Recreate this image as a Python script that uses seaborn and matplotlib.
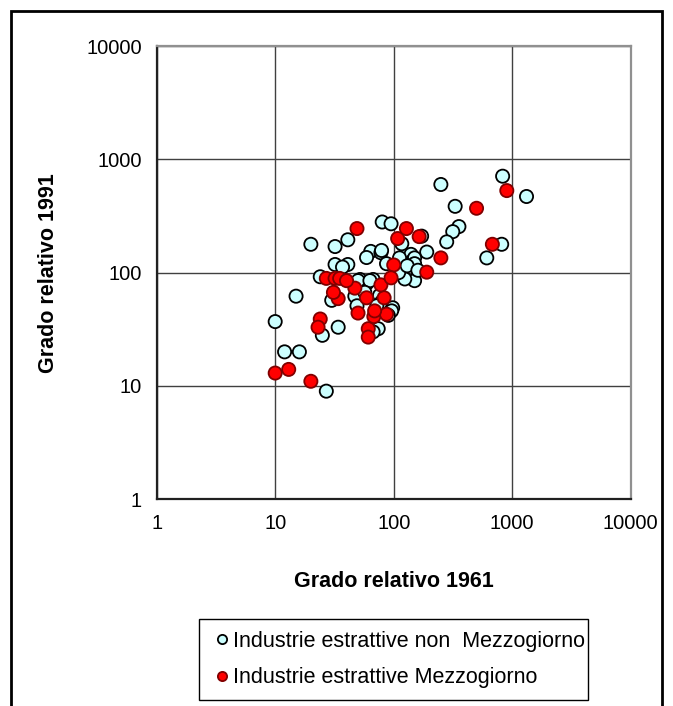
import pandas as pd
import numpy as np
import seaborn as sns
import matplotlib.pyplot as plt
from matplotlib.patches import Rectangle

# grado relativo 1961 / 1991 - industrie estrattive
nonmez_1961 = [10, 12, 16, 15, 20, 24, 25, 27, 34, 32, 41, 80, 95, 64, 78, 59, 32, 41, 37, 87,
               52, 67, 59, 250, 830, 1320, 330, 355, 315, 280, 815, 610, 172, 190, 150, 124,
               125, 140, 145, 150, 117, 79, 112, 150, 50, 63, 30, 47, 57, 76, 79, 98, 96, 49,
               72, 74, 67, 90, 110, 130, 160]
nonmez_1991 = [37, 20, 20, 62, 178, 92, 28, 9, 33, 170, 195, 280, 270, 154, 150, 136, 118, 118, 112, 120,
               87, 87, 80, 600, 710, 470, 385, 255, 230, 187, 178, 135, 210, 152, 85, 88,
               145, 145, 128, 135, 180, 157, 135, 120, 85, 85, 57, 62, 67, 63, 55, 49, 46, 51,
               51, 32, 30, 42, 100, 115, 105]

mez_1961 = [10, 13, 20, 24, 23, 61, 61, 68, 50, 87, 69, 83, 59, 47, 34, 31, 78, 27, 32, 35,
            40, 49, 108, 100, 95, 900, 500, 680, 250, 190, 128, 164]
mez_1991 = [13, 14, 11, 39, 33, 32, 27, 41, 44, 43, 46, 60, 60, 73, 59, 67, 78, 89, 89, 89,
            85, 245, 200, 117, 90, 530, 370, 178, 135, 101, 245, 208]

lab_non = "Industrie estrattive non  Mezzogiorno"
lab_mez = "Industrie estrattive Mezzogiorno"

df = pd.DataFrame({
    "x": nonmez_1961 + mez_1961,
    "y": nonmez_1991 + mez_1991,
    "gruppo": [lab_non] * len(nonmez_1961) + [lab_mez] * len(mez_1961),
})

sns.set_style("white")
plt.rcParams['font.family'] = ['Liberation Sans', 'DejaVu Sans']
plt.rcParams['text.color'] = 'black'
plt.rcParams['axes.labelcolor'] = 'black'
plt.rcParams['xtick.color'] = 'black'
plt.rcParams['ytick.color'] = 'black'

fig = plt.figure(figsize=(6.73, 7.06), dpi=100)
ax = fig.add_axes([0.2328, 0.2928, 0.7044, 0.642])

sns.scatterplot(data=df, x="x", y="y", hue="gruppo", hue_order=[lab_non, lab_mez],
                palette={lab_non: "#CCFFFF", lab_mez: "#FF0000"},
                s=90, linewidth=1.3, ax=ax, zorder=3)
# bordo nero per i ciano, rosso scuro per i rossi
coll = ax.collections[0]
ec = ["black"] * len(nonmez_1961) + ["#800000"] * len(mez_1961)
coll.set_edgecolors(ec)

ax.set_xscale("log")
ax.set_yscale("log")
ax.set_xlim(1, 10000)
ax.set_ylim(1, 10000)
ticks = [1, 10, 100, 1000, 10000]
ax.set_xticks(ticks)
ax.set_yticks(ticks)
ax.set_xticklabels([str(t) for t in ticks], fontsize=14.5)
ax.set_yticklabels([str(t) for t in ticks], fontsize=14.5)
ax.minorticks_off()
ax.tick_params(direction="inout", length=7, width=1.2, color="#202020", pad=7)
ax.grid(True, color="#404040", linewidth=1.0, zorder=0)
ax.set_axisbelow(True)
for side in ["left", "bottom"]:
    ax.spines[side].set_color("#202020")
    ax.spines[side].set_linewidth(1.6)
for side in ["top", "right"]:
    ax.spines[side].set_color("#909090")
    ax.spines[side].set_linewidth(1.6)

ax.set_xlabel("Grado relativo 1961", fontsize=15.5, fontweight="bold")
ax.set_ylabel("Grado relativo 1991", fontsize=15.5, fontweight="bold")
ax.xaxis.set_label_coords(0.5, -0.158)
ax.yaxis.set_label_coords(-0.206, 0.5)

leg_top = 1 - 619 / 706
sns.move_legend(ax, "upper left", bbox_to_anchor=(0.2957, leg_top - 0.1, 0.578, 0.1),
                bbox_transform=fig.transFigure, title=None, frameon=True,
                fontsize=15.5, fancybox=False, edgecolor="black", framealpha=1,
                handletextpad=0.05, markerscale=0.7, borderaxespad=0, mode="expand",
                labelspacing=0.72, borderpad=0.55, handlelength=1.0)
leg = ax.get_legend()
leg.get_frame().set_linewidth(1.0)
for h, c in zip(leg.legend_handles, ["black", "#800000"]):
    h.set_markeredgecolor(c)

# cornice nera dell'area del grafico
fig.patches.append(Rectangle((11 / 673, -0.05), 651 / 673, 1 - 11 / 706 + 0.05,
                             transform=fig.transFigure, fill=False,
                             edgecolor="black", linewidth=2.0))

fig.savefig("out.png", dpi=100)
